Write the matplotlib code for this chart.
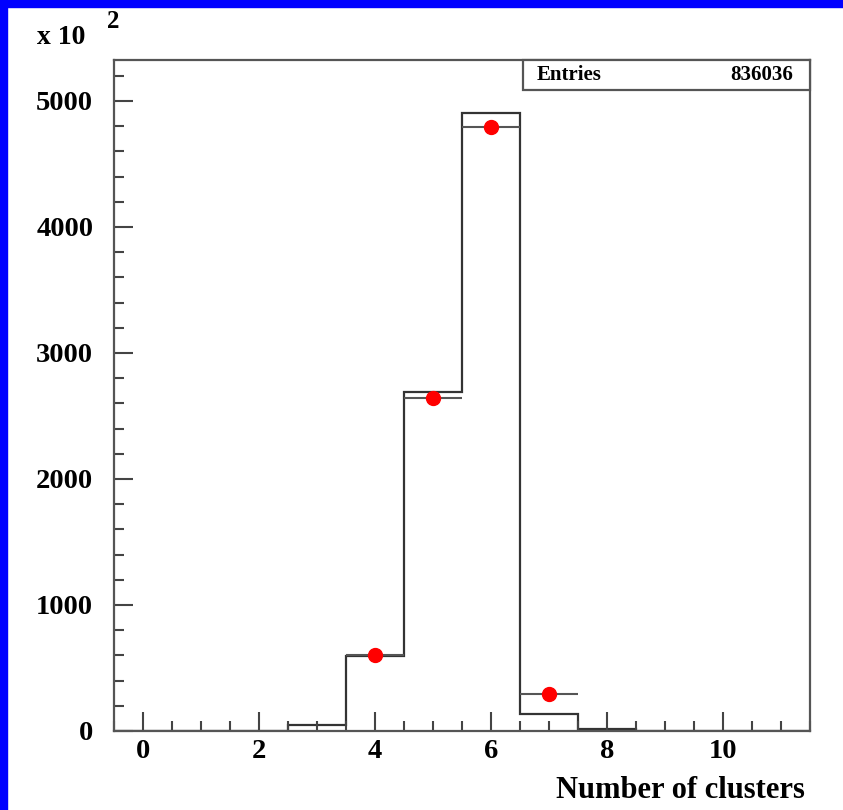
import numpy as np
import matplotlib
matplotlib.use("Agg")
import matplotlib.pyplot as plt
from matplotlib.patches import Rectangle
from matplotlib.ticker import MultipleLocator

# histogram of number of clusters (axis in units of 10^2)
bin_edges = np.arange(-0.5, 12.0, 1.0)
hist_counts = [0, 0, 0, 50, 595, 2690, 4905, 135, 15, 0, 0, 0]

# overlaid data points (red) with x error bars
point_x = [4, 5, 6, 7]
point_y = [603, 2643, 4794, 294]
point_xerr = [0.5, 0.5, 0.5, 0.5]

entries = "836036"

serif = "Liberation Serif"

fig = plt.figure(figsize=(8.43, 8.10), dpi=100)
ax = fig.add_axes([114 / 843, 79 / 810, 696 / 843, 671 / 810])

# blue frame on top and left
fig.patches.append(Rectangle((0, 1 - 7 / 810), 1, 7 / 810, transform=fig.transFigure,
                             color="#0000ff", zorder=0))
fig.patches.append(Rectangle((0, 0), 7 / 843, 1, transform=fig.transFigure,
                             color="#0000ff", zorder=0))

ax.stairs(hist_counts, bin_edges, color="#333333", lw=1.6)
ax.errorbar(point_x, point_y, xerr=point_xerr, fmt="o", color="red", ms=10,
            ecolor="#555555", elinewidth=1.5, capsize=0, zorder=5)

ax.set_xlim(-0.5, 11.5)
ax.set_ylim(0, 5325)

ax.xaxis.set_major_locator(MultipleLocator(2))
ax.xaxis.set_minor_locator(MultipleLocator(0.5))
ax.yaxis.set_major_locator(MultipleLocator(1000))
ax.yaxis.set_minor_locator(MultipleLocator(200))
ax.tick_params(which="both", direction="in", top=False, right=False, color="#444444", width=1.5)
ax.tick_params(which="major", length=14)
ax.tick_params(which="minor", length=7)
ax.tick_params(axis="y", which="major", pad=15)
ax.tick_params(axis="x", which="major", pad=6)
for lab in ax.get_xticklabels() + ax.get_yticklabels():
    lab.set_fontfamily(serif)
    lab.set_fontweight("bold")
    lab.set_fontsize(20.5)

for sp in ax.spines.values():
    sp.set_color("#555555")
    sp.set_linewidth(1.6)

ax.set_xlabel("Number of clusters", fontfamily=serif, fontweight="bold",
              fontsize=22)
ax.xaxis.set_label_coords(805 / 843, 20 / 810, transform=fig.transFigure)
ax.xaxis.label.set_horizontalalignment("right")
ax.xaxis.label.set_verticalalignment("center")

fig.text(37 / 843, 1 - 37 / 810, "x 10", fontfamily=serif, fontweight="bold",
         fontsize=20, va="center", ha="left")
fig.text(107 / 843, 1 - 22 / 810, "2", fontfamily=serif, fontweight="bold",
         fontsize=18, va="center", ha="left")

# stats box
box = Rectangle((523 / 843, 1 - 90 / 810), (810 - 523) / 843, 30 / 810,
                transform=fig.transFigure, facecolor="white", edgecolor="#555555", lw=1.6,
                zorder=10)
fig.patches.append(box)
fig.text(537 / 843, 1 - 75 / 810, "Entries", fontfamily=serif, fontweight="bold",
         fontsize=15, va="center", ha="left", zorder=11)
fig.text(793 / 843, 1 - 75 / 810, entries, fontfamily=serif, fontweight="bold",
         fontsize=15, va="center", ha="right", zorder=11)

fig.savefig("out.png", dpi=100)
